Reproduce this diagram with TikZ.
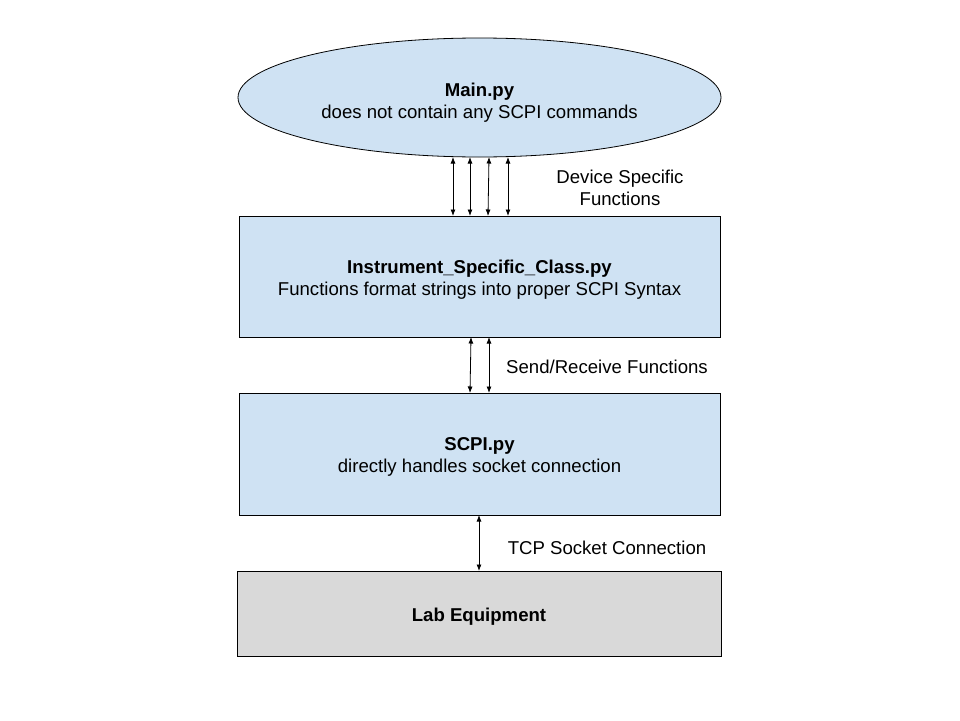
\documentclass[tikz,border=0pt]{standalone}
\usepackage{fontspec}
\setmainfont{Liberation Sans}
\usetikzlibrary{shapes.geometric,arrows.meta}
\definecolor{boxblue}{HTML}{CFE2F3}
\definecolor{boxgray}{HTML}{D9D9D9}
\tikzset{
  txt/.style={font=\fontsize{18.6}{22}\selectfont, align=center, inner sep=0pt},
  blk/.style={draw=black, line width=0.8pt, inner sep=0pt},
  conn/.style={line width=0.8pt, {Latex[length=6.5pt,width=5pt]}-{Latex[length=6.5pt,width=5pt]}},
}
\begin{document}
\begin{tikzpicture}[x=1pt,y=-1pt]
\useasboundingbox (0,0) rectangle (960,720);
\node[blk, ellipse, fill=boxblue, minimum width=483, minimum height=119] (main) at (479.5,97.5) {};
\node[txt] (maintxt) at (479.5,102.5) {\textbf{Main.py}\\does not contain any SCPI commands};
\node[blk, rectangle, fill=boxblue, minimum width=481, minimum height=121] (isc) at (479.5,276.5) {};
\node[txt] (isctxt) at (479.5,280) {\textbf{Instrument\_Specific\_Class.py}\\Functions format strings into proper SCPI Syntax};
\node[blk, rectangle, fill=boxblue, minimum width=481, minimum height=122] (scpi) at (479.5,454) {};
\node[txt] (scpitxt) at (479.5,457) {\textbf{SCPI.py}\\directly handles socket connection};
\node[blk, rectangle, fill=boxgray, minimum width=484, minimum height=85] (lab) at (479,613.5) {};
\node[txt] (labtxt) at (479,617) {\textbf{Lab Equipment}};
\coordinate (a1t) at (453,157); \coordinate (a1b) at (453,216);
\coordinate (a2t) at (470,157); \coordinate (a2b) at (470,216);
\coordinate (a3t) at (489,157); \coordinate (a3b) at (488,216);
\coordinate (a4t) at (508,157); \coordinate (a4b) at (508,216);
\draw[conn] (a1t) -- (a1b);
\draw[conn] (a2t) -- (a2b);
\draw[conn] (a3t) -- (a3b);
\draw[conn] (a4t) -- (a4b);
\coordinate (b1t) at (471,337); \coordinate (b1b) at (470,393);
\coordinate (b2t) at (489,337); \coordinate (b2b) at (489,393);
\draw[conn] (b1t) -- (b1b);
\draw[conn] (b2t) -- (b2b);
\coordinate (c1t) at (479,515); \coordinate (c1b) at (479,571);
\draw[conn] (c1t) -- (c1b);
\node[txt] (l1) at (620,187.5) {Device Specific\\Functions};
\node[txt] (l2) at (607,366.5) {Send/Receive Functions};
\node[txt] (l3) at (607,547.5) {TCP Socket Connection};
\end{tikzpicture}
\end{document}
